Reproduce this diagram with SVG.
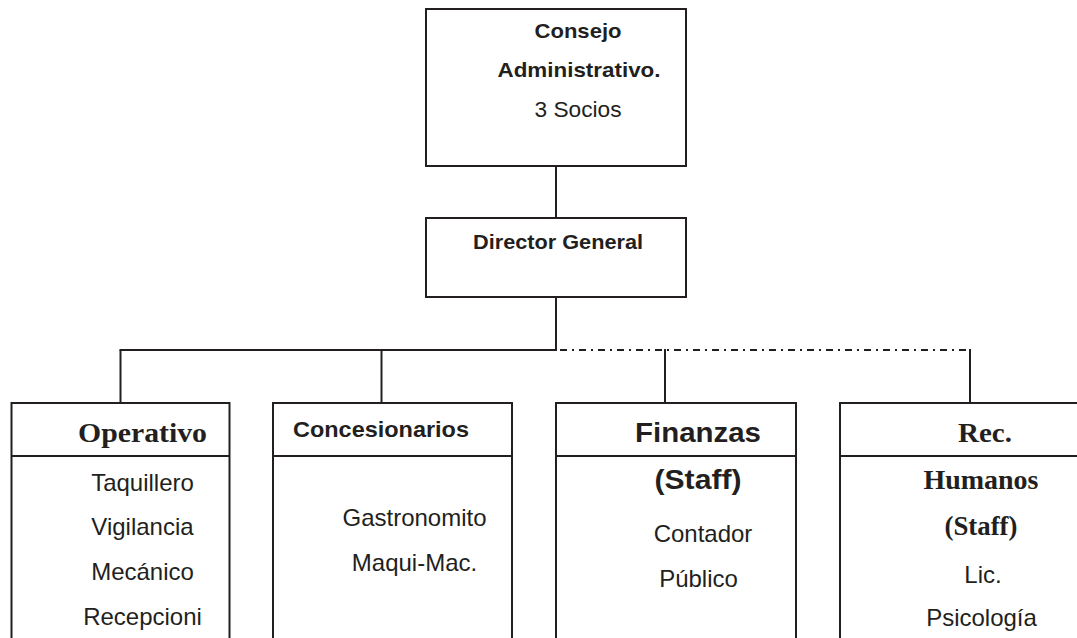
<svg xmlns="http://www.w3.org/2000/svg" width="1077" height="638" viewBox="0 0 1077 638">
  <style>
    .box { fill: #ffffff; stroke: #231f20; stroke-width: 2; }
    .ln { fill: none; stroke: #231f20; stroke-width: 2; }
    .dd { fill: none; stroke: #231f20; stroke-width: 2; stroke-dasharray: 7 5 2 5; }
    text { fill: #231f20; text-anchor: middle; }
    .sb { font-family: "Liberation Sans", Arial, sans-serif; font-weight: bold; }
    .sr { font-family: "Liberation Sans", Arial, sans-serif; font-weight: normal; font-size: 24px; }
    .tb { font-family: "Liberation Serif", "Times New Roman", serif; font-weight: bold; }
  </style>
  <rect x="0" y="0" width="1077" height="638" fill="#ffffff"/>

  <g id="connectors">
    <line class="ln" x1="556" y1="166" x2="556" y2="218"/>
    <line class="ln" x1="556" y1="297" x2="556" y2="350"/>
    <line class="ln" x1="119.5" y1="350" x2="557" y2="350"/>
    <line class="ln" x1="120.5" y1="350" x2="120.5" y2="403"/>
    <line class="ln" x1="381.5" y1="350" x2="381.5" y2="403"/>
    <line class="dd" x1="560" y1="350" x2="970" y2="350"/>
    <line class="ln" x1="665" y1="349" x2="665" y2="403"/>
    <line class="ln" x1="970" y1="349" x2="970" y2="403"/>
  </g>

  <g id="consejo">
    <rect class="box" x="426" y="9" width="260" height="157"/>
    <text class="sb" x="578" y="38" font-size="21" textLength="87" lengthAdjust="spacingAndGlyphs">Consejo</text>
    <text class="sb" x="579" y="77" font-size="21" textLength="163" lengthAdjust="spacingAndGlyphs">Administrativo.</text>
    <text class="sr" x="578" y="117" font-size="22" style="font-size:22px" textLength="87" lengthAdjust="spacingAndGlyphs">3 Socios</text>
  </g>

  <g id="director">
    <rect class="box" x="426" y="218" width="260" height="79"/>
    <text class="sb" x="558" y="249" font-size="21" textLength="170" lengthAdjust="spacingAndGlyphs">Director General</text>
  </g>

  <g id="operativo">
    <rect class="box" x="11.5" y="403" width="218" height="260"/>
    <line class="ln" x1="11.5" y1="456" x2="229.5" y2="456"/>
    <text class="tb" x="142.5" y="442" font-size="28" textLength="129" lengthAdjust="spacingAndGlyphs">Operativo</text>
    <text class="sr" x="142.5" y="491">Taquillero</text>
    <text class="sr" x="142.5" y="535">Vigilancia</text>
    <text class="sr" x="142.5" y="580">Mecánico</text>
    <text class="sr" x="142.5" y="625">Recepcioni</text>
  </g>

  <g id="concesionarios">
    <rect class="box" x="273" y="403" width="239" height="260"/>
    <line class="ln" x1="273" y1="456" x2="512" y2="456"/>
    <text class="sb" x="381" y="437" font-size="22" textLength="176" lengthAdjust="spacingAndGlyphs">Concesionarios</text>
    <text class="sr" x="414.5" y="526">Gastronomito</text>
    <text class="sr" x="414.5" y="571">Maqui-Mac.</text>
  </g>

  <g id="finanzas">
    <rect class="box" x="556" y="403" width="240" height="260"/>
    <line class="ln" x1="556" y1="456" x2="796" y2="456"/>
    <text class="sb" x="698" y="442" font-size="27" textLength="126" lengthAdjust="spacingAndGlyphs">Finanzas</text>
    <text class="sb" x="698" y="489" font-size="27" textLength="87" lengthAdjust="spacingAndGlyphs">(Staff)</text>
    <text class="sr" x="703" y="542">Contador</text>
    <text class="sr" x="698.5" y="587">Público</text>
  </g>

  <g id="rrhh">
    <rect class="box" x="840" y="403" width="250" height="260"/>
    <line class="ln" x1="840" y1="456" x2="1090" y2="456"/>
    <text class="tb" x="985" y="442" font-size="27" textLength="54" lengthAdjust="spacingAndGlyphs">Rec.</text>
    <text class="tb" x="981" y="489" font-size="27" textLength="115" lengthAdjust="spacingAndGlyphs">Humanos</text>
    <text class="tb" x="981" y="535" font-size="27" textLength="73" lengthAdjust="spacingAndGlyphs">(Staff)</text>
    <text class="sr" x="983" y="583">Lic.</text>
    <text class="sr" x="981.5" y="626">Psicología</text>
  </g>
</svg>
